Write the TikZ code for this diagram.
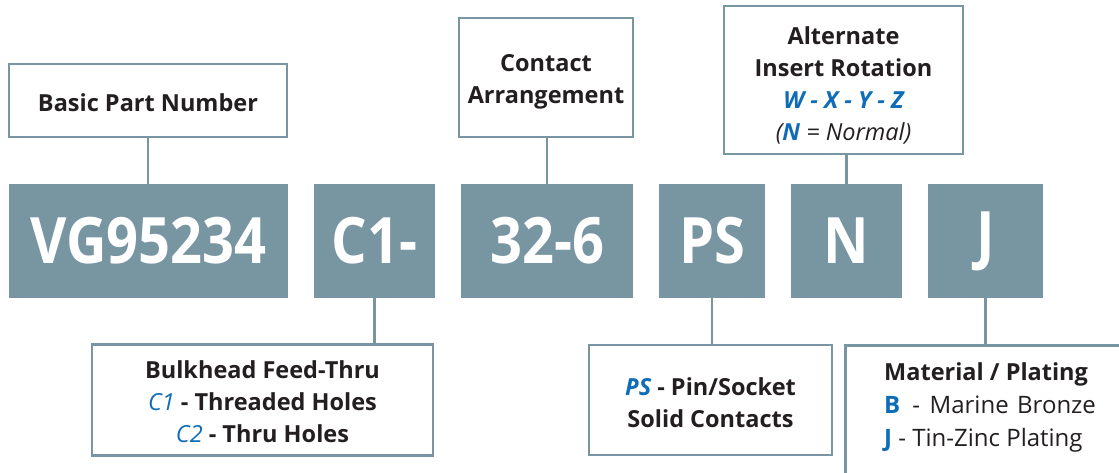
\documentclass[tikz,border=0pt]{standalone}
\usepackage{fontspec}
\usepackage{graphicx}
\setmainfont{Open Sans}
\definecolor{slate}{HTML}{7895A2}
\definecolor{bluet}{HTML}{0F6CB6}
\definecolor{ink}{HTML}{231F20}
\tikzset{
  codebox/.style={fill=slate, draw=none, text=white, inner sep=0pt,
    font=\bfseries\fontsize{64}{64}\selectfont, minimum height=114pt},
  framebox/.style={draw=slate, line width=2.5pt, fill=white, inner sep=0pt},
  boxtext/.style={inner sep=0pt, align=center, text=ink, font=\bfseries\fontsize{23.5}{32}\selectfont},
  link/.style={draw=slate, line width=2.5pt},
}
\newcommand{\bl}[1]{\textcolor{bluet}{#1}}
\newcommand{\cd}[1]{\scalebox{0.875}[1]{#1}}
\begin{document}
\begin{tikzpicture}[x=1pt,y=-1pt]
\useasboundingbox (0,0) rectangle (1119,472);
\clip (0,0) rectangle (1119,472);
% code boxes
\node[codebox, minimum width=279pt] (vg) at (148.5,241) {\cd{VG95234}};
\node[codebox, minimum width=121pt] (c1) at (374.5,241) {\cd{C1-}};
\node[codebox, minimum width=172pt] (arr) at (547,241) {\cd{32-6}};
\node[codebox, minimum width=106pt] (ps) at (712,241) {\cd{PS}};
\node[codebox, minimum width=111pt] (rot) at (846.5,241) {\cd{N}};
\node[codebox, minimum width=115pt] (mat) at (985.5,241) {\cd{J}};
% label boxes above
\node[framebox, minimum width=278pt, minimum height=73pt] (basic) at (148,100.5) {};
\node[boxtext] (basic-t) at (148,103) {Basic Part Number};
\node[framebox, minimum width=174pt, minimum height=119pt] (contact) at (546,77.5) {};
\node[boxtext] (contact-t) at (546,82) {Contact\\Arrangement};
\node[framebox, minimum width=239pt, minimum height=148pt] (alt) at (843.5,80) {};
\node[boxtext] (alt-t) at (843.5,85)
  {Alternate\\Insert Rotation\\\bl{\itshape W - X - Y - Z}\\\mdseries\itshape (\bl{\bfseries N} = Normal)};
% label boxes below
\node[framebox, minimum width=341pt, minimum height=111pt] (bulk) at (262.5,400) {};
\node[boxtext] (bulk-t) at (262.5,402)
  {Bulkhead Feed-Thru\\\bl{\mdseries\itshape C1} - Threaded Holes\\\bl{\mdseries\itshape C2} - Thru Holes};
\node[framebox, minimum width=243pt, minimum height=110pt] (psbox) at (710.5,400) {};
\node[boxtext] (psbox-t) at (710.5,403)
  {\bl{\itshape PS} - Pin/Socket\\Solid Contacts};
\node[framebox, minimum width=320pt, minimum height=170pt, anchor=north west] (matbox) at (844,344) {};
\node[anchor=north west, inner sep=0pt, align=left, text=ink, font=\fontsize{24}{33}\selectfont] (mattext) at (884,362)
  {\textbf{\fontsize{23.5}{33}\selectfont Material / Plating}\\\bl{\textbf{B}}\hspace{0.5em}-\hspace{0.4em}Marine\hspace{0.35em}Bronze\\\bl{\textbf{J}} - Tin-Zinc Plating};
% connectors
\draw[link] (basic.south) -- (basic.south |- vg.north);
\draw[link] (contact.south) -- (contact.south -| arr.north) -- (arr.north);
\draw[link] (alt.south -| rot.north) -- (rot.north);
\draw[link] (c1.south) -- (c1.south |- bulk.north);
\draw[link] (ps.south) -- (ps.south |- psbox.north);
\draw[link] (mat.south) -- (mat.south |- matbox.north);
\end{tikzpicture}
\end{document}
